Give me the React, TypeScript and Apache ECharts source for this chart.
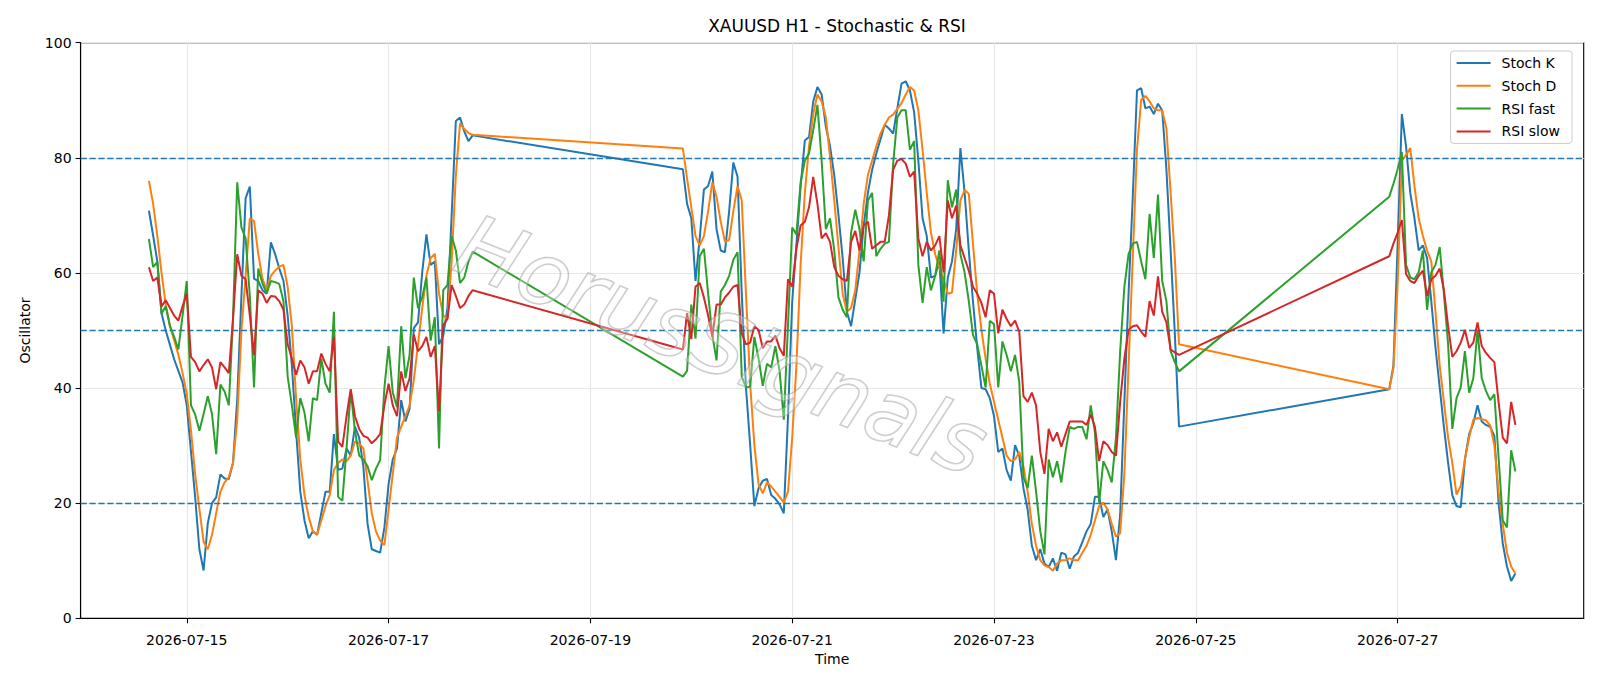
import React, { useEffect, useRef } from "react";
import * as echarts from "echarts";

// ---------- data ----------
const TITLE = "XAUUSD H1 - Stochastic & RSI";
const SERIES_NAMES = ["Stoch K", "Stoch D", "RSI fast", "RSI slow"];
const SERIES_COLORS = ["#1f77b4", "#ff7f0e", "#2ca02c", "#d62728"];
const LEVELS = [20, 50, 80];

// hourly bars, three trading stretches (weekend gaps between them)
const SEGMENT_STARTS = ["2026-07-14T15:00:00Z", "2026-07-19T22:00:00Z", "2026-07-26T22:00:00Z"];
const SEGMENT_LENGTHS = [78, 119, 31];

const TICK_DATES = ["2026-07-15", "2026-07-17", "2026-07-19", "2026-07-21", "2026-07-23", "2026-07-25", "2026-07-27"];
const Y_TICKS = [0, 20, 40, 60, 80, 100];

const STOCH_K = [
  // 07-14 15:00 .. 07-17 20:00
  70.8, 66.5, 62, 53, 50, 47.5, 45, 43, 41, 37, 29, 21, 12, 8.3, 16.5, 20, 21, 25, 24.3, 24.2,
  27, 38, 56, 73, 75, 59, 58.6, 57, 56.4, 65.3, 63.3, 60.8, 58.6, 52.6, 43.9, 32.6, 22, 17, 13.9, 15.1,
  14.5, 18.3, 22, 22, 32, 25.8, 26, 29.5, 28.3, 33.3, 31.4, 26.4, 16.4, 12, 11.7, 11.4, 15.75, 23.3, 27.6, 29.5,
  37.9, 34.2, 36.4, 50.4, 51.4, 60.1, 66.7, 61.4, 62, 47.6, 49.1, 53.9, 70, 86.4, 87, 84.6, 82.9, 83.9,
  // 07-19 22:00 .. 07-24 20:00
  78, 72, 69.5, 58.6, 66, 74.5, 75.1, 77.6, 67.6, 63.9, 63.6, 70.75, 79.2, 76.7, 56.4, 40.1, 30.1, 19.5, 22.6, 23.9,
  24.2, 21.4, 20.75, 19.8, 18.25, 35, 55, 65, 75, 83, 83.6, 89.8, 92.3, 91, 85.4, 82, 77, 70.1, 62.6, 53.25,
  50.75, 55.4, 60.1, 68.25, 73.9, 77.9, 80.75, 83.25, 85.75, 85.1, 84.2, 88.6, 92.9, 93.3, 91.7, 87.9, 79.5, 69.5, 66.4, 59.2,
  59.5, 62, 49.5, 59.2, 62, 67.6, 81.7, 74, 63.9, 55, 47, 40, 39.8, 38.25, 35.1, 28.9, 29.5, 25.75, 23.9, 30.1,
  28.25, 22.6, 18.9, 12.6, 10.1, 12, 9.5, 8.9, 10.4, 8.25, 11.4, 11.1, 8.6, 10.75, 11.4, 13.25, 15.1, 16.4, 21.1, 21.1,
  17.6, 18.9, 15.1, 10.1, 18, 37.6, 56.4, 73.25, 91.7, 92.1, 88.6, 88.9, 87.6, 89.4, 88.25, 78, 64, 49.5, 33.3,
  // 07-26 22:00 .. 07-28 04:00
  39.8, 43.9, 65, 87.6, 82, 73.9, 69.5, 63.9, 64.8, 62.6, 55.1, 47, 40.1, 33.25, 27, 21.4, 19.5, 19.3, 27.6, 32,
  33.9, 37, 34.2, 33.6, 33.25, 31.7, 20.1, 13, 9, 6.5, 7.8,
];

const STOCH_D = [
  76, 72, 66.4, 60, 54.5, 50.8, 48.3, 45.8, 42.6, 39, 32.6, 25, 19, 13.3, 12, 14.5, 18.3, 22, 23.6, 24.5,
  27, 34.5, 50, 59.5, 69.5, 69, 63.3, 59, 57, 59.5, 60.4, 61.1, 61.4, 57.6, 50.75, 38.25, 27.6, 21.4, 17.6, 15.1,
  14.5, 17, 19.5, 21.4, 25.75, 27, 27.6, 27.3, 28.25, 30.75, 30.4, 29.5, 23.9, 18.25, 15.1, 13.5, 12.7, 18.9, 25.1, 31.4,
  33.3, 35.1, 37, 41.4, 47.6, 53.9, 59.5, 62.6, 63.3, 56.4, 52.6, 52, 62, 77, 86, 85, 84.3, 84,
  81.6, 76.4, 71.4, 66.4, 64.8, 66.4, 70.75, 75.75, 73.25, 68.9, 65.4, 65.75, 70.75, 75.1, 72.6, 56.4, 40.75, 30.1, 23.25, 21.7,
  23.6, 22.9, 22, 21.1, 20.1, 22, 31.4, 43.9, 61.4, 73.9, 82, 87.6, 91, 89.8, 87, 80.1, 72.6, 64.5, 56.4, 53.25,
  53.9, 57, 63.9, 72, 77, 79.5, 82, 84.2, 85.75, 87, 87.5, 88.5, 89.5, 91, 92.3, 91.7, 88.25, 81.4, 73.9, 67,
  63.25, 61, 58.9, 56.4, 56.6, 63.9, 72.6, 74.4, 73.75, 65, 56.4, 50.1, 45.1, 40.75, 37.6, 34.5, 31.4, 28.25, 27.3, 27.6,
  28.9, 26.4, 22, 16.4, 12.6, 10.1, 9.2, 8.9, 8.25, 9.5, 10.1, 10.1, 10.4, 10.1, 10.1, 11.4, 12.6, 14.5, 17, 19.5,
  20.1, 18.9, 16.4, 14.2, 14.8, 25.1, 43.9, 62.6, 81.4, 90.1, 90.75, 89.8, 88.6, 88.25, 88.25, 85.1, 74, 62.6, 47.6,
  39.8, 43.5, 58, 79.5, 80.5, 81.7, 75.1, 69.5, 66.4, 63.9, 62, 53.25, 43.9, 37.6, 31.4, 27, 21.5, 23, 27.6, 31.4,
  34.5, 34.8, 34.6, 34.4, 33.5, 30.1, 22, 16.4, 11.4, 9, 7.8,
];

const RSI_FAST = [
  65.9, 61, 61.9, 52.9, 54.2, 50.75, 48.9, 46.7, 52.6, 58.6, 37, 35.4, 32.6, 35.5, 38.6, 35.5, 28.5, 40.6, 39.4, 37,
  52, 75.75, 67.9, 66, 56, 40.1, 60.75, 58.2, 56.4, 58.6, 58.4, 58.1, 55.1, 42, 37, 31.4, 38.25, 35.75, 30.75, 38.25,
  37.9, 45.1, 40.75, 39.2, 53.25, 21.1, 20.4, 29.5, 39.5, 32.6, 28.3, 27.6, 26.4, 24, 26, 27.5, 40, 47.3, 39.2, 36.7,
  50.75, 41.7, 45.75, 59.2, 53.9, 55.75, 59.2, 48.25, 52.3, 29.5, 57, 57.9, 66.4, 63.9, 58.25, 59.2, 62, 63.7,
  42, 43, 54.5, 48.6, 62.9, 64.2, 56.4, 49.25, 44.8, 56.75, 57.9, 59.5, 62.3, 63.6, 42, 40.1, 40.25, 48.9, 45.1, 40.4,
  44.2, 43.6, 47.3, 42.9, 34.5, 51, 67.9, 66.7, 75.75, 79.5, 80.75, 84.8, 89.2, 79.5, 67.6, 69.5, 63.9, 55.75, 53.6, 52.3,
  67, 71, 67.6, 62, 72.6, 73.9, 62.9, 64.2, 65.1, 65.4, 78.9, 87, 88.25, 88.25, 81.4, 82.9, 61.4, 54.8, 61, 57,
  59.5, 63.9, 55, 76.1, 71.4, 74.5, 63.25, 60.1, 55.1, 49.2, 47.6, 43.9, 40.1, 51.7, 51.1, 40.1, 48.1, 45.75, 42.9, 45.75,
  41.1, 24.5, 22.6, 28.25, 22, 15.1, 11.1, 27.6, 24.5, 27.3, 23.6, 28.9, 33.25, 32.9, 33.25, 33.25, 31.1, 37, 32.3, 20.1,
  27.3, 25.75, 23.6, 31.4, 46.4, 57.6, 63.25, 65.1, 65.4, 62, 58.9, 70.25, 62.6, 73.6, 58.6, 55.1, 46.4, 44.5, 42.9,
  73.25, 75.5, 78, 81, 61.4, 59.2, 58.9, 60.1, 63.9, 53.6, 60.1, 61.4, 64.5, 56.4, 47.6, 32.9, 38.25, 40.1, 46.4, 39.2,
  41.7, 50.1, 41.7, 39.5, 37.9, 38.9, 28, 17, 15.8, 29.2, 25.5,
];

const RSI_SLOW = [
  61, 58.6, 59.2, 54.2, 55.25, 53.9, 52.6, 51.7, 54.2, 56.4, 45.4, 44.5, 42.9, 44, 45, 43.6, 39.8, 44.5, 43.6, 42.6,
  52, 63.25, 59.5, 58.9, 52.6, 45.7, 57, 56.4, 54.8, 56, 55.9, 55.1, 53.6, 47.6, 45.1, 42.3, 44.8, 43.6, 40.75, 42.9,
  42.9, 46, 44.2, 42.9, 48.9, 30.75, 29.8, 35.1, 39.8, 35.1, 32.9, 31.7, 31.4, 30.4, 31.1, 32, 37, 40.75, 37, 35.1,
  42.9, 39.5, 41.7, 49.3, 46.4, 47.3, 48.9, 45.4, 47.3, 36, 50.9, 52, 57.9, 56, 53.9, 54.5, 56, 57,
  46.7, 53, 48.5, 57.6, 58.25, 55.75, 52.6, 48.9, 54.5, 54.5, 55.75, 56.6, 57.6, 57.9, 49.5, 47.6, 47.9, 50.75, 50.1, 46.9,
  48.1, 48.1, 49.1, 46.9, 45.6, 58.9, 57.6, 64.2, 68.25, 68.9, 71.4, 76.7, 72, 66, 66.9, 65.4, 61, 59.5, 58.9, 58.6,
  65.4, 67.3, 63.9, 68.25, 68.9, 64.2, 64.8, 65.4, 65.4, 70, 77.9, 79.5, 79.8, 79, 76.7, 77.6, 66, 62.9, 65.4, 63.9,
  64.8, 66.4, 60.1, 72.6, 69.5, 71.7, 64.8, 62.6, 60.4, 57.6, 56.4, 54.8, 52.3, 57, 56.4, 49.5, 53.6, 52, 50.75, 51.7,
  49.8, 38.6, 37.6, 39.2, 37, 28.9, 25.1, 32.9, 30.75, 32.3, 29.8, 32, 34.2, 34.2, 34.2, 34.2, 33.6, 35.4, 33.25, 27.3,
  30.75, 30.1, 28.9, 28.25, 37.6, 45.1, 50.1, 50.75, 50.9, 49.8, 48.9, 55.1, 52.6, 59.4, 53.25, 51.4, 46.7, 46.2, 45.75,
  62.9, 65.1, 67, 69.2, 59.8, 58.6, 58.25, 59.5, 60.4, 56, 58.9, 59.5, 60.75, 57, 50.75, 45.4, 46.4, 47.9, 50.1, 47,
  47.9, 51.4, 47.3, 46.1, 45.25, 44.5, 37.6, 31.4, 30.4, 37.6, 33.6,
];

const WATERMARK = "HorusSignals";

// ---------- helpers ----------
const ORIGIN = Date.parse(TICK_DATES[0] + "T00:00:00Z");
const HOUR = 3600000;

function buildTimes(): number[] {
  const out: number[] = [];
  SEGMENT_STARTS.forEach((s, i) => {
    const h0 = (Date.parse(s) - ORIGIN) / HOUR;
    for (let k = 0; k < SEGMENT_LENGTHS[i]; k++) out.push(h0 + k);
  });
  return out;
}

function fmtDate(v: number): string {
  const d = new Date(ORIGIN + v * HOUR);
  const mm = String(d.getUTCMonth() + 1).padStart(2, "0");
  const dd = String(d.getUTCDate()).padStart(2, "0");
  return `${d.getUTCFullYear()}-${mm}-${dd}`;
}

export default function App() {
  const ref = useRef<HTMLDivElement>(null);

  useEffect(() => {
    if (!ref.current) return;
    const chart = echarts.init(ref.current, undefined, { renderer: "svg" });
    const times = buildTimes();
    const first = times[0];
    const last = times[times.length - 1];
    const pad = (last - first) * 0.05;
    const tickHours = TICK_DATES.map((d) => (Date.parse(d + "T00:00:00Z") - ORIGIN) / HOUR);
    const all = [STOCH_K, STOCH_D, RSI_FAST, RSI_SLOW];
    const font = "DejaVu Sans";

    const series: any[] = all.map((vals, i) => ({
      name: SERIES_NAMES[i],
      type: "line",
      symbol: "none",
      data: vals.map((v, k) => [times[k], v]),
      lineStyle: { color: SERIES_COLORS[i], width: 2 },
      itemStyle: { color: SERIES_COLORS[i] },
      z: 3 + i,
    }));
    series.push({
      name: "levels",
      type: "line",
      data: [],
      symbol: "none",
      z: 10,
      markLine: {
        silent: true,
        symbol: ["none", "none"],
        label: { show: false },
        lineStyle: { color: "#1f77b4", width: 1.4, type: [6.2, 2.7] },
        data: LEVELS.map((l) => ({ yAxis: l })),
      },
    });

    chart.setOption({
      animation: false,
      backgroundColor: "#ffffff",
      textStyle: { fontFamily: font },
      title: {
        text: TITLE,
        left: 832,
        top: 12,
        textAlign: "center",
        textStyle: { fontFamily: font, fontSize: 17, fontWeight: "normal", color: "#000" },
      },
      grid: {
        left: 80.6,
        right: 16.3,
        top: 42.7,
        bottom: 67.7,
        show: true,
        borderColor: "#000",
        borderWidth: 1.1,
        backgroundColor: "transparent",
      },
      legend: {
        data: SERIES_NAMES,
        orient: "vertical",
        right: 28,
        top: 51,
        itemWidth: 34,
        itemHeight: 14,
        itemGap: 8.8,
        padding: [5, 12, 5, 5],
        backgroundColor: "rgba(255,255,255,0.8)",
        borderColor: "#cccccc",
        borderWidth: 1,
        borderRadius: 3,
        itemStyle: { opacity: 0 },
        lineStyle: { width: 2 },
        textStyle: { fontFamily: font, fontSize: 14, color: "#000", padding: [0, 0, 0, 6] },
      },
      xAxis: {
        type: "value",
        min: first - pad,
        max: last + pad,
        name: "Time",
        nameLocation: "middle",
        nameGap: 29,
        nameTextStyle: { fontFamily: font, fontSize: 14, color: "#000" },
        axisLine: { show: true, onZero: false, lineStyle: { color: "#000", width: 1.1 } },
        axisTick: { show: true, customValues: tickHours, length: 5, lineStyle: { color: "#000", width: 1.1 } },
        axisLabel: { customValues: tickHours, formatter: fmtDate, fontFamily: font, fontSize: 14, color: "#000", margin: 15 },
        splitLine: { show: true, lineStyle: { color: "#e6e6e6", width: 1.1 } },
      },
      yAxis: {
        type: "value",
        min: Y_TICKS[0],
        max: Y_TICKS[Y_TICKS.length - 1],
        interval: Y_TICKS[1] - Y_TICKS[0],
        name: "Oscillator",
        nameLocation: "middle",
        nameGap: 49,
        nameTextStyle: { fontFamily: font, fontSize: 14, color: "#000" },
        axisLine: { show: true, onZero: false, lineStyle: { color: "#000", width: 1.1 } },
        axisTick: { show: true, length: 5, lineStyle: { color: "#000", width: 1.1 } },
        axisLabel: { fontFamily: font, fontSize: 14, color: "#000", margin: 9 },
        splitLine: { show: true, lineStyle: { color: "#e6e6e6", width: 1.1 } },
      },
      graphic: [
        {
          type: "text",
          x: 722,
          y: 345,
          rotation: -0.38,
          z: 100,
          silent: true,
          style: {
            text: WATERMARK,
            fontFamily: font,
            fontStyle: "italic",
            fontSize: 86,
            fill: "rgba(255,255,255,0.3)",
            stroke: "rgba(150,150,150,0.55)",
            lineWidth: 1.6,
            align: "center",
            verticalAlign: "middle",
          },
        },
      ],
      series,
    });

    return () => chart.dispose();
  }, []);

  return (
    <div
      ref={ref}
      style={{ position: "absolute", left: 0, top: 0, width: 1600, height: 686 }}
    />
  );
}
